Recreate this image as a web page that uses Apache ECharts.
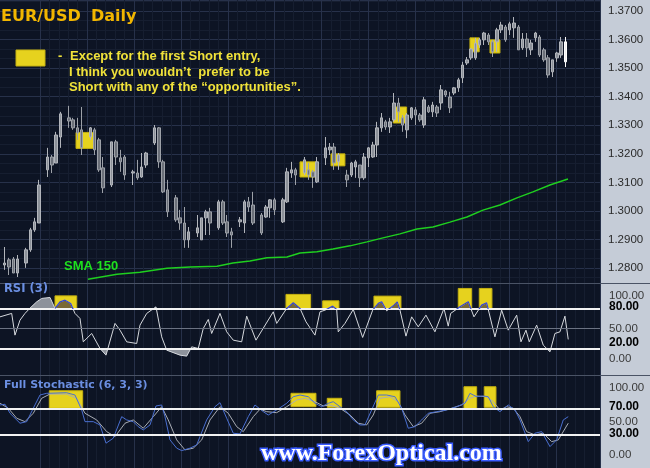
<!DOCTYPE html>
<html><head><meta charset="utf-8">
<script src="https://cdn.jsdelivr.net/npm/echarts@6/dist/echarts.min.js"></script>
<style>html,body{margin:0;padding:0;background:#0d1424;}#c{width:650px;height:468px;}</style>
</head><body><div id="c"></div>
<script>
// ---------- DATA ----------
// candles: [barIndex, open, close, low, high]
const candles = [
[0,1.2811,1.2818,1.2794,1.2874],[1,1.2829,1.2804,1.2776,1.2836],[2,1.2832,1.2783,1.2783,1.2839],[3,1.2783,1.2832,1.2769,1.2846],
[5,1.2818,1.2864,1.2801,1.2871],[6,1.2864,1.2934,1.2857,1.2941],[7,1.2934,1.2962,1.2927,1.2976],[8,1.2958,1.3091,1.2958,1.3109],
[10,1.3144,1.3189,1.3119,1.3221],[11,1.3189,1.3161,1.3133,1.3196],[12,1.3168,1.3266,1.3168,1.3277],[13,1.3259,1.3340,1.3221,1.3347],
[15,1.3326,1.3315,1.3291,1.3368],[16,1.3319,1.3291,1.3284,1.3326],[17,1.3291,1.3273,1.3249,1.3326],[18,1.3284,1.3221,1.3196,1.3364],
[20,1.3259,1.3291,1.3249,1.3294],[21,1.3284,1.3214,1.3196,1.3291],[22,1.3249,1.3144,1.3137,1.3256],[23,1.3151,1.3081,1.3063,1.3189],
[25,1.3091,1.3242,1.3084,1.3242],[26,1.3242,1.3189,1.3161,1.3249],[27,1.3186,1.3172,1.3137,1.3214],[28,1.3189,1.3126,1.3109,1.3196],
[30,1.3133,1.3137,1.3091,1.3144],[31,1.3133,1.3116,1.3109,1.3179],[32,1.3119,1.3154,1.3116,1.3203],[33,1.3161,1.3203,1.3151,1.3207],
[35,1.3238,1.3291,1.3231,1.3301],[36,1.3291,1.3172,1.3151,1.3294],[37,1.3172,1.3067,1.3063,1.3179],[38,1.3074,1.2997,1.2979,1.3109],
[40,1.3046,1.2969,1.2962,1.3056],[41,1.2976,1.2958,1.2934,1.3004],[42,1.2958,1.2899,1.2871,1.3014],[43,1.2899,1.2927,1.2871,1.2944],
[45,1.2923,1.2941,1.2909,1.2986],[46,1.2899,1.2976,1.2899,1.2976],[47,1.2976,1.2997,1.2916,1.3004],[48,1.2997,1.2958,1.2916,1.3011],
[50,1.2941,1.3032,1.2934,1.3039],[51,1.3032,1.2958,1.2951,1.3039],[52,1.2962,1.2923,1.2909,1.2986],[53,1.2927,1.2916,1.2871,1.2941],
[55,1.2962,1.2969,1.2944,1.2979],[56,1.2958,1.3032,1.2923,1.3039],[57,1.3032,1.3014,1.2997,1.3049],[58,1.3021,1.2958,1.2951,1.3067],
[60,1.2986,1.2923,1.2916,1.2993],[61,1.2979,1.3014,1.2976,1.3021],[62,1.3011,1.3039,1.2976,1.3042],[63,1.3039,1.3004,1.2986,1.3046],
[65,1.2962,1.3039,1.2958,1.3046],[66,1.3032,1.3137,1.3028,1.3151],[67,1.3133,1.3144,1.3116,1.3172],[68,1.3144,1.3126,1.3091,1.3151],
[70,1.3133,1.3179,1.3126,1.3189],[71,1.3144,1.3126,1.3109,1.3168],[72,1.3137,1.3119,1.3081,1.3144],[73,1.3102,1.3172,1.3098,1.3189],
[75,1.3186,1.3221,1.3161,1.3259],[76,1.3214,1.3224,1.3196,1.3238],[77,1.3224,1.3168,1.3144,1.3238],[78,1.3172,1.3196,1.3144,1.3203],
[80,1.3126,1.3109,1.3084,1.3144],[81,1.3126,1.3168,1.3119,1.3172],[82,1.3154,1.3172,1.3116,1.3179],[83,1.3161,1.3116,1.3084,1.3161],
[84,1.3116,1.3189,1.3109,1.3203],[85,1.3186,1.3221,1.3154,1.3224],[86,1.3189,1.3231,1.3186,1.3242],[87,1.3231,1.3291,1.3189,1.3312],
[88,1.3291,1.3326,1.3277,1.3343],[89,1.3312,1.3294,1.3284,1.3319],[90,1.3294,1.3312,1.3273,1.3326],[91,1.3319,1.3378,1.3312,1.3413],
[92,1.3378,1.3347,1.3312,1.3396],[93,1.3326,1.3301,1.3277,1.3336],[94,1.3284,1.3336,1.3255,1.3343],[95,1.3326,1.3361,1.3319,1.3364],
[96,1.3354,1.3336,1.3301,1.3364],[97,1.3336,1.3319,1.3312,1.3343],[98,1.3301,1.3389,1.3291,1.3399],[99,1.3364,1.3347,1.3343,1.3371],
[100,1.3347,1.3371,1.3329,1.3382],[101,1.3364,1.3343,1.3329,1.3371],[102,1.3378,1.3424,1.3354,1.3441],[103,1.3420,1.3406,1.3399,1.3424],
[104,1.3399,1.3361,1.3343,1.3417],[105,1.3413,1.3431,1.3406,1.3434],[106,1.3431,1.3459,1.3417,1.3466],[107,1.3466,1.3511,1.3448,1.3522],
[108,1.3518,1.3529,1.3511,1.3539],[109,1.3536,1.3567,1.3529,1.3571],[110,1.3536,1.3588,1.3529,1.3606],[111,1.3581,1.3599,1.3571,1.3606],
[112,1.3599,1.3623,1.3581,1.3627],[113,1.3616,1.3592,1.3581,1.3623],[114,1.3592,1.3557,1.3539,1.3599],[115,1.3592,1.3634,1.3557,1.3641],
[116,1.3634,1.3651,1.3623,1.3662],[117,1.3644,1.3599,1.3592,1.3651],[118,1.3634,1.3655,1.3616,1.3662],[119,1.3641,1.3658,1.3606,1.3679],
[120,1.3644,1.3564,1.3564,1.3651],[121,1.3571,1.3602,1.3564,1.3623],[122,1.3602,1.3571,1.3539,1.3623],[123,1.3564,1.3588,1.3546,1.3599],
[124,1.3606,1.3623,1.3592,1.3627],[125,1.3609,1.3546,1.3539,1.3616],[126,1.3564,1.3529,1.3522,1.3571],[127,1.3536,1.3476,1.3466,1.3546],
[128,1.3487,1.3529,1.3469,1.3529],[129,1.3536,1.3553,1.3522,1.3557],[130,1.3546,1.3592,1.3536,1.3609],[131,1.3592,1.3522,1.3504,1.3609]
];
// SMA 150 readings: [barIndex, value]
const sma150 = [[19.46,1.2761],[26.24,1.2779],[31.61,1.2786],[37.92,1.2800],[43.29,1.2804],[49.6,1.2807],[53.34,1.2818],[57.31,1.2825],
[61.28,1.2836],[65.96,1.2839],[68.99,1.2853],[72.97,1.2857],[76.7,1.2867],[80.68,1.2878],[84.65,1.2892],[88.39,1.2906],[92.36,1.2920],
[96.33,1.2937],[100.07,1.2944],[104.04,1.2961],[108.01,1.2979],[111.75,1.3003],[115.72,1.3021],[119.7,1.3046],[123.43,1.3067],[127.4,1.3091],[131.61,1.3112]];
// RSI(3) readings
const rsi3 = [[-1.1,67.5],[1.63,72.7],[2.4,39.9],[3.57,62.5],[4.74,72.7],[5.91,80.7],[7.47,90.2],[8.64,95.3],[10.58,96.8],[11.75,80.2],
[12.92,90.2],[14.09,92.7],[15.42,87.8],[16.42,72.7],[17.59,65.1],[18.36,29.8],[20.33,42.4],[22.26,19.8],[23.67,9.7],[25.77,57.6],
[26.94,47.4],[28.5,29.8],[30.84,27.3],[31.61,55.0],[33.18,72.7],[35.35,82.6],[36.68,37.3],[37.85,17.2],[40.96,9.7],[42.52,8.2],
[43.69,22.2],[45.23,19.8],[46.4,50.0],[47.57,63.6],[48.36,42.4],[50.3,72.7],[51.87,44.9],[53.41,32.3],[55.37,29.8],[56.54,68.6],
[58.71,32.3],[62.76,75.1],[63.55,57.6],[65.89,80.2],[67.43,88.7],[69.0,80.2],[70.4,60.0],[72.5,39.9],[73.67,75.1],[74.84,77.6],
[76.63,83.7],[77.57,78.7],[77.94,44.9],[79.5,57.6],[81.45,78.7],[83.64,36.4],[85.98,77.6],[87.29,87.8],[88.08,90.2],[89.25,76.6],
[90.96,85.2],[91.73,90.2],[92.36,77.6],[93.76,38.4],[95.09,67.5],[96.63,52.4],[98.43,70.1],[100.53,44.9],[102.64,80.2],[103.64,53.5],
[104.2,72.7],[106.38,82.6],[108.32,90.2],[109.65,67.5],[111.45,85.2],[112.61,88.7],[114.55,37.3],[116.12,77.6],[117.66,47.4],[119.63,70.1],
[120.63,29.8],[121.8,47.4],[122.57,29.8],[124.3,55.0],[125.84,24.8],[127.41,14.7],[128.57,42.4],[129.74,44.9],[130.91,68.6],[131.68,33.4]];
// Full Stochastic (6,3,3) readings
const stochK = [[-1.1,76.0],[0.07,77.1],[1.24,63.4],[3.57,48.2],[5.14,50.6],[6.68,71.0],[8.25,91.2],[9.81,93.8],[14.48,94.7],[16.42,91.2],
[17.99,68.4],[18.76,50.6],[20.7,50.6],[22.26,45.6],[23.67,17.8],[25.37,25.4],[27.34,58.2],[28.5,53.2],[30.04,50.6],[31.21,43.0],
[32.38,38.0],[33.95,45.6],[35.35,74.5],[36.68,76.0],[37.45,58.2],[38.62,22.8],[40.19,10.2],[41.35,6.5],[43.29,10.2],[44.86,15.2],
[45.63,27.8],[47.19,53.2],[49.13,73.4],[50.3,79.5],[51.87,55.8],[53.41,33.0],[54.97,31.9],[56.91,58.2],[58.48,76.0],[60.42,65.8],
[61.59,60.8],[63.55,68.4],[65.89,78.6],[67.43,88.6],[69.0,91.2],[70.93,88.6],[72.5,78.6],[74.06,73.4],[75.61,78.6],[76.77,81.0],
[78.34,73.4],[79.9,65.8],[81.45,53.2],[83.01,45.6],[84.18,45.6],[85.74,68.4],[87.29,91.2],[89.25,91.2],[91.19,88.6],[92.76,71.0],
[94.3,40.6],[95.86,43.0],[97.43,53.2],[98.97,63.4],[100.93,65.8],[103.27,68.4],[105.6,73.4],[107.54,78.6],[108.71,93.8],[110.28,88.6],
[111.82,89.7],[112.99,88.6],[114.16,73.4],[115.72,65.8],[117.66,76.0],[119.23,68.4],[120.4,53.2],[122.34,20.2],[123.9,33.0],[125.47,35.4],
[127.41,12.6],[128.97,22.8],[130.51,53.2],[131.68,58.2]];
const stochD = [[-1.1,78.6],[0.84,71.0],[2.8,55.8],[4.74,50.6],[6.68,63.4],[8.64,86.2],[10.58,92.7],[14.48,92.7],[16.82,86.2],[18.76,63.4],
[21.49,53.2],[23.83,35.4],[25.77,27.8],[28.11,48.2],[30.04,53.2],[32.38,40.6],[34.72,58.2],[36.68,73.4],[38.22,53.2],[40.19,22.8],
[42.12,7.6],[44.06,10.2],[46.03,22.8],[47.97,53.2],[50.3,73.4],[52.24,63.4],[54.2,43.0],[55.75,35.4],[58.08,58.2],[59.65,69.5],
[61.21,65.8],[63.55,64.3],[65.89,73.4],[68.22,83.6],[70.16,86.2],[72.5,81.0],[74.44,74.5],[76.0,76.0],[78.34,71.0],[80.68,60.8],
[82.62,48.2],[84.58,45.6],[86.12,60.8],[87.69,86.2],[90.02,88.6],[91.96,81.0],[93.53,60.8],[95.47,43.0],[97.43,48.2],[99.37,63.4],
[101.7,65.8],[104.44,71.0],[106.77,76.0],[108.71,86.2],[110.28,89.7],[112.61,88.6],[114.16,81.0],[115.72,68.4],[117.29,73.4],[118.83,71.0],
[120.4,58.2],[121.96,35.4],[123.9,30.4],[125.84,33.0],[127.8,20.2],[129.35,22.8],[131.68,48.2]];
// highlighted zones: [fromBar, toBar, upperValue, lowerValue]
const priceBoxes = [[16.66,21.1,1.3275,1.3219],[69.0,73.0,1.3172,1.3119],[76.24,79.5,1.3200,1.3158],[90.79,93.92,1.3364,1.3308],[108.71,110.88,1.3606,1.3557],[113.39,115.72,1.3599,1.3553]];
const rsiBoxes = [[11.75,16.82,99.2,78.7],[65.72,71.49,101.4,78.7],[74.3,78.1,91.7,78.7],[86.28,92.59,98.8,78.7],[105.98,109.11,110.4,78.7],[110.89,113.85,110.4,78.7]];
const stochBoxes = [[10.42,18.22,97.7,71.0],[66.89,72.73,93.8,73.4],[75.37,78.73,86.2,72.5],[86.91,92.36,97.7,72.5],[107.31,110.28,103.8,69.9],[112.05,114.79,103.8,72.5]];
const rsiLevels = [80, 20];
const rsiMid = 50;
const stochLevels = [70, 30];
const rsiTickLabels = {100:'100.00', 80:'80.00', 50:'50.00', 20:'20.00', 0:'0.00'};
const stochTickLabels = {100:'100.00', 70:'70.00', 50:'50.00', 30:'30.00', 0:'0.00'};
const rsiBold = [80, 20];
const stochBold = [70, 30];

// ---------- CHART ----------
const XMIN = -1.1, XMAX = 139.1;
const YELLOW = '#e6d21e';
const chart = echarts.init(document.getElementById('c'), null, {renderer: 'canvas'});
const boxAreas = b => b.map(r => [{coord: [r[0], r[2]]}, {coord: [r[1], r[3]]}]);
const markAreaOf = b => ({silent: true, itemStyle: {color: YELLOW, borderColor: '#c4b010', borderWidth: 1}, label: {show: false}, data: boxAreas(b)});
const hiddenX = (gi) => ({gridIndex: gi, type: 'value', min: XMIN, max: XMAX, show: false});
// parts of the RSI line that fall inside the highlighted zones (plus the sub-80 neighbours that close them)
function insideZones(points, boxes, level) {
  const out = [];
  boxes.forEach(b => {
    const idx = [];
    points.forEach((p, i) => { if (p[0] >= b[0] - 0.05 && p[0] <= b[1] + 0.05) idx.push(i); });
    if (!idx.length) return;
    let s = idx[0], e = idx[idx.length - 1];
    if (s > 0 && points[s - 1][1] <= level) s--;
    if (e < points.length - 1 && points[e + 1][1] <= level) e++;
    if (out.length) out.push([(points[s][0] + out[out.length - 1][0]) / 2, null]);
    for (let i = s; i <= e; i++) out.push(points[i]);
  });
  return out;
}
const rsiZoneParts = insideZones(rsi3, rsiBoxes, rsiLevels[0]);

const labelRich = {
  n: {fontSize: 11.5, color: '#3a3a3a', fontFamily: 'Liberation Sans'},
  b80: {fontSize: 12, color: '#000', fontWeight: 'bold', fontFamily: 'Liberation Sans', padding: [0,0,4,0]},
  b20: {fontSize: 12, color: '#000', fontWeight: 'bold', fontFamily: 'Liberation Sans', padding: [0,0,11,0]},
  n0: {fontSize: 11.5, color: '#3a3a3a', fontFamily: 'Liberation Sans', padding: [0,0,6,0]},
  b70: {fontSize: 12, color: '#000', fontWeight: 'bold', fontFamily: 'Liberation Sans', padding: [0,0,4,0]},
  b30: {fontSize: 12, color: '#000', fontWeight: 'bold', fontFamily: 'Liberation Sans', padding: [0,0,2,0]},
  n100: {fontSize: 11.5, color: '#3a3a3a', fontFamily: 'Liberation Sans', padding: [0,0,2,0]}
};
function levelFormatter(map, bold, kind) {
  return function (v) {
    const k = Math.round(v);
    if (Math.abs(v - k) > 1e-6 || map[k] === undefined) return '';
    let style = 'n';
    if (bold.indexOf(k) >= 0) style = kind === 'rsi' ? (k === 80 ? 'b80' : 'b20') : (k === 70 ? 'b70' : 'b30');
    else if (k === 0 && kind === 'rsi') style = 'n0';
    else if (k === 100 && kind === 'stoch') style = 'n100';
    return '{' + style + '|' + map[k] + '}';
  };
}
const levelLines = (levels, extra) => ({
  silent: true, symbol: ['none', 'none'], label: {show: false},
  lineStyle: {color: '#f2f2f2', width: 2, type: 'solid'},
  data: levels.map(v => ({yAxis: v})).concat(extra || [])
});
const CLEAR = 'rgba(0,0,0,0)';

const option = {
  backgroundColor: '#0d1424',
  animation: false,
  grid: [
    {left: 0, right: 50, top: 0, height: 283},
    {left: 0, right: 50, top: 285.4, height: 89.4},
    {left: 0, right: 50, top: 376.1, height: 92.1},
    {left: 40, right: 50, top: 0, bottom: 0}
  ],
  xAxis: [hiddenX(0), hiddenX(1), hiddenX(2),
    {gridIndex: 3, type: 'value', min: 0, max: 560, interval: 46.94,
     axisLine: {show: false}, axisTick: {show: false}, axisLabel: {show: false},
     splitLine: {show: true, lineStyle: {color: '#27314a', width: 1}},
     minorTick: {show: false, splitNumber: 5},
     minorSplitLine: {show: true, lineStyle: {color: '#161e30', width: 1}}}
  ],
  yAxis: [
    {gridIndex: 0, type: 'value', position: 'right', min: 1.2748, max: 1.37385, splitNumber: 10,
     axisLine: {show: false}, axisTick: {show: false},
     axisLabel: {margin: 8, color: '#2a2a2a', fontSize: 11.5, fontFamily: 'Liberation Sans',
       showMinLabel: false, showMaxLabel: false, formatter: v => v.toFixed(4)},
     splitLine: {show: true, lineStyle: {color: '#27314a'}},
     minorTick: {show: false, splitNumber: 3},
     minorSplitLine: {show: true, lineStyle: {color: '#161e30'}}},
    {gridIndex: 1, type: 'value', position: 'right', min: -20, max: 115, interval: 10,
     axisLine: {show: false}, axisTick: {show: false}, splitLine: {show: false},
     axisLabel: {margin: 9, rich: labelRich, formatter: levelFormatter(rsiTickLabels, rsiBold, 'rsi')}},
    {gridIndex: 2, type: 'value', position: 'right', min: -20, max: 120, interval: 10,
     axisLine: {show: false}, axisTick: {show: false}, splitLine: {show: false},
     axisLabel: {margin: 9, rich: labelRich, formatter: levelFormatter(stochTickLabels, stochBold, 'stoch')}},
    {gridIndex: 3, type: 'value', show: false, min: 0, max: 1}
  ],
  visualMap: [
    {type: 'piecewise', show: false, seriesIndex: 4, dimension: 1,
     pieces: [{gt: 80, color: '#8d929b'}, {gte: 20, lte: 80, color: CLEAR}, {lt: 20, color: '#8d929b'}]},
    {type: 'piecewise', show: false, seriesIndex: 5, dimension: 1,
     pieces: [{gt: 80, color: '#7a6934'}, {gte: 20, lte: 80, color: CLEAR}, {lt: 20, color: CLEAR}]},
    {type: 'piecewise', show: false, seriesIndex: 7, dimension: 1,
     pieces: [{gt: 80, color: '#3545cc'}, {gte: 20, lte: 80, color: CLEAR}, {lt: 20, color: CLEAR}]}
  ],
  series: [
    {type: 'line', xAxisIndex: 3, yAxisIndex: 3, data: [], silent: true},
    {type: 'candlestick', name: 'EUR/USD', xAxisIndex: 0, yAxisIndex: 0, z: 4, barWidth: 3,
     encode: {x: 0, y: [1, 2, 3, 4]},
     itemStyle: {color: '#8c9199', color0: '#6b7079', borderColor: '#b2b5bb', borderColor0: '#9da1a8', borderWidth: 1},
     data: candles.map((r, i) => i === candles.length - 1 ? {value: r, itemStyle: {color: '#eeeeee', color0: '#eeeeee', borderColor: '#ffffff', borderColor0: '#ffffff'}} : r)},
    {type: 'line', name: 'SMA 150', xAxisIndex: 0, yAxisIndex: 0, z: 3, data: sma150, symbol: 'none',
     lineStyle: {color: '#1fcf1f', width: 1.5}, itemStyle: {color: '#1fcf1f'},
     markArea: markAreaOf(priceBoxes)},
    {type: 'line', name: 'RSI zones', xAxisIndex: 1, yAxisIndex: 1, z: 1, data: rsi3, symbol: 'none', silent: true,
     lineStyle: {width: 0, opacity: 0}, markArea: markAreaOf(rsiBoxes)},
    {type: 'line', name: 'RSI fill', xAxisIndex: 1, yAxisIndex: 1, z: 2, data: rsi3, symbol: 'none', silent: true,
     lineStyle: {width: 0}, areaStyle: {origin: 50, opacity: 1}},
    {type: 'line', name: 'RSI zone fill', xAxisIndex: 1, yAxisIndex: 1, z: 3, data: rsiZoneParts, symbol: 'none', silent: true,
     connectNulls: false, lineStyle: {width: 0}, areaStyle: {origin: 50, opacity: 1}},
    {type: 'line', name: 'RSI (3)', xAxisIndex: 1, yAxisIndex: 1, z: 4, data: rsi3, symbol: 'none',
     lineStyle: {color: '#d6d9de', width: 1}, itemStyle: {color: '#d6d9de'},
     markLine: levelLines(rsiLevels, [{yAxis: rsiMid, lineStyle: {color: '#6b7282', width: 1}}])},
    {type: 'line', name: 'RSI zone edge', xAxisIndex: 1, yAxisIndex: 1, z: 5, data: rsiZoneParts, symbol: 'none', silent: true,
     connectNulls: false, lineStyle: {width: 1.2}},
    {type: 'line', name: '%D', xAxisIndex: 2, yAxisIndex: 2, z: 3, data: stochD, symbol: 'none',
     lineStyle: {color: '#a9adb5', width: 1}, itemStyle: {color: '#a9adb5'},
     markArea: markAreaOf(stochBoxes), markLine: levelLines(stochLevels)},
    {type: 'line', name: '%K', xAxisIndex: 2, yAxisIndex: 2, z: 4, data: stochK, symbol: 'none',
     lineStyle: {color: '#4a6fd0', width: 1}, itemStyle: {color: '#4a6fd0'}}
  ],
  graphic: [
    {type: 'rect', z: -5, silent: true, shape: {x: 600, y: 0, width: 50, height: 468}, style: {fill: '#c5ccd7'}},
    {type: 'line', z: -4, silent: true, shape: {x1: 600.5, y1: 0, x2: 600.5, y2: 468}, style: {stroke: '#8e97a5', lineWidth: 1}},
    {type: 'line', z: 50, silent: true, shape: {x1: 0, y1: 283.5, x2: 650, y2: 283.5}, style: {stroke: '#4a5365', lineWidth: 1}},
    {type: 'line', z: 50, silent: true, shape: {x1: 0, y1: 375.5, x2: 650, y2: 375.5}, style: {stroke: '#4a5365', lineWidth: 1}},
    {type: 'text', z: 100, style: {text: 'EUR/USD', x: 1, y: 16.5, verticalAlign: 'middle', font: 'bold 16px "DejaVu Sans"', fill: '#f2b600'}},
    {type: 'text', z: 100, style: {text: 'Daily', x: 91, y: 16.5, verticalAlign: 'middle', font: 'bold 16px "DejaVu Sans"', fill: '#f2b600'}},
    {type: 'rect', z: 100, shape: {x: 16, y: 50, width: 29, height: 16}, style: {fill: YELLOW, stroke: '#c4b010', lineWidth: 1}},
    {type: 'text', z: 100, style: {text: '-', x: 58, y: 56.5, verticalAlign: 'middle', font: 'bold 13px "Liberation Sans"', fill: '#f0e23a'}},
    {type: 'text', z: 100, style: {text: 'Except for the first Short entry,', x: 70, y: 56.5, verticalAlign: 'middle', font: 'bold 13px "Liberation Sans"', fill: '#f0e23a'}},
    {type: 'text', z: 100, style: {text: 'I think you wouldn\u2019t  prefer to be', x: 69, y: 72, verticalAlign: 'middle', font: 'bold 13px "Liberation Sans"', fill: '#f0e23a'}},
    {type: 'text', z: 100, style: {text: 'Short with any of the \u201copportunities\u201d.', x: 69, y: 87, verticalAlign: 'middle', font: 'bold 13px "Liberation Sans"', fill: '#f0e23a'}},
    {type: 'text', z: 100, style: {text: 'SMA 150', x: 64, y: 266, verticalAlign: 'middle', font: 'bold 13px "Liberation Sans"', fill: '#1ee01e'}},
    {type: 'text', z: 100, style: {text: 'RSI (3)', x: 4, y: 289.5, verticalAlign: 'middle', font: 'bold 11.5px "DejaVu Sans"', fill: '#6b8fe2'}},
    {type: 'text', z: 100, style: {text: 'Full Stochastic (6, 3, 3)', x: 4, y: 385, verticalAlign: 'middle', font: 'bold 11px "DejaVu Sans"', fill: '#6b8fe2'}},
    {type: 'text', z: 99, style: {text: 'www.ForexOptical.com', x: 261, y: 454, verticalAlign: 'middle', font: 'bold 24px "Liberation Serif"', fill: '#3a5cff', stroke: '#3a5cff', lineWidth: 3, shadowBlur: 6, shadowColor: '#2d4dff'}},
    {type: 'text', z: 100, style: {text: 'www.ForexOptical.com', x: 261, y: 454, verticalAlign: 'middle', font: 'bold 24px "Liberation Serif"', fill: '#ffffff'}}
  ]
};
chart.setOption(option);
</script></body></html>
